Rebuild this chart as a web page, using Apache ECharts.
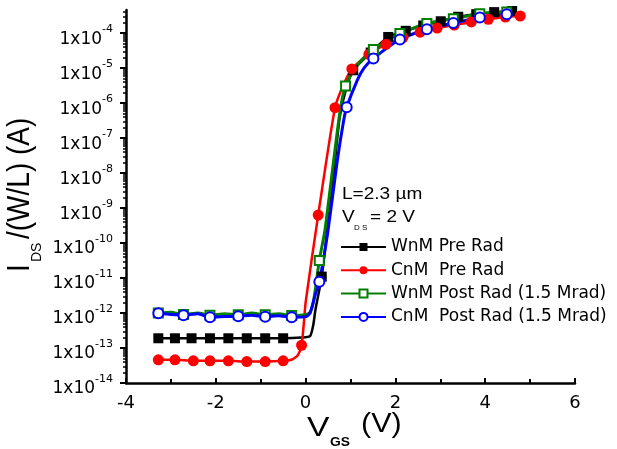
<!DOCTYPE html>
<html><head><meta charset="utf-8">
<script src="https://cdn.jsdelivr.net/npm/echarts@6/dist/echarts.min.js"></script>
<style>html,body{margin:0;padding:0;background:#fff}#c{width:617px;height:449px}</style>
</head><body><div id="c"></div>
<script>
// ---- labels ----
const seriesNames = ['WnM Pre Rad', 'CnM  Pre Rad', 'WnM Post Rad (1.5 Mrad)', 'CnM  Post Rad (1.5 Mrad)'];
const xTickValues = [-4, -2, 0, 2, 4, 6];
const yDecadeExponents = [-14, -13, -12, -11, -10, -9, -8, -7, -6, -5, -4];
const yTopCurrent = 4.6e-4;

// ---- WnM Pre Rad (black squares) ----
const wnmPreV = [-3.28, -2.91, -2.54, -2.13, -1.72, -1.31, -0.90, -0.50, 0.36, 1.06, 1.45, 1.84, 2.23, 2.62, 3.01, 3.40, 3.80, 4.20, 4.60];
const wnmPreI = [1.9e-13, 1.9e-13, 1.9e-13, 1.9e-13, 1.9e-13, 1.9e-13, 1.9e-13, 1.9e-13, 1.1e-11, 8.7e-6, 2.8e-5, 7.8e-5, 1.17e-4, 1.66e-4, 2.19e-4, 2.95e-4, 3.5e-4, 4.0e-4, 4.3e-4];
const wnmPreMidV = [-0.09, 0.10, 0.17, 0.22, 0.50, 0.65, 0.76, 0.90];
const wnmPreMidI = [2.0e-13, 2.2e-13, 4.5e-13, 1.26e-12, 4.0e-10, 2.0e-8, 4.0e-7, 2.5e-6];

// ---- CnM Pre Rad (red circles) ----
const cnmPreV = [-3.28, -2.91, -2.50, -2.13, -1.72, -1.31, -0.90, -0.50, -0.09, 0.28, 0.655, 1.03, 1.41, 1.79, 2.17, 2.55, 2.93, 3.31, 3.69, 4.07, 4.45, 4.78];
const cnmPreI = [4.6e-14, 4.6e-14, 4.3e-14, 4.3e-14, 4.3e-14, 4.1e-14, 4.1e-14, 4.3e-14, 1.2e-13, 6.3e-10, 7.4e-7, 9.5e-6, 2.5e-5, 4.8e-5, 7.6e-5, 1.07e-4, 1.4e-4, 1.7e-4, 2.1e-4, 2.5e-4, 2.9e-4, 3.1e-4];
const cnmPreMidV = [-0.30, -0.17, -0.04, 0.00, 0.85];
const cnmPreMidI = [4.7e-14, 6.3e-14, 5.0e-13, 2.0e-12, 3.5e-6];

// ---- WnM Post Rad (green open squares) ----
const wnmPostV = [-3.28, -2.72, -2.13, -1.50, -0.90, -0.31, 0.305, 0.89, 1.51, 2.10, 2.70, 3.29, 3.88, 4.48];
const wnmPostI = [1.0e-12, 9.1e-13, 8.7e-13, 8.9e-13, 8.9e-13, 8.5e-13, 3.2e-11, 3.1e-6, 3.4e-5, 9.8e-5, 1.9e-4, 2.6e-4, 3.6e-4, 4.0e-4];
const wnmPostMidV = [-3.0, -2.4, -1.8, -1.2, -0.6, 0.0, 0.10, 0.17, 0.23, 0.43, 0.60, 0.77, 1.10, 1.30, 4.70];
const wnmPostMidI = [1.05e-12, 1.0e-12, 9.5e-13, 1.0e-12, 9.5e-13, 8.9e-13, 1.05e-12, 2.0e-12, 6.3e-12, 2.3e-10, 1.26e-8, 6.3e-7, 1.0e-5, 2.0e-5, 4.3e-4];

// ---- CnM Post Rad (blue open circles) ----
const cnmPostV = [-3.28, -2.72, -2.13, -1.50, -0.90, -0.31, 0.306, 0.915, 1.51, 2.10, 2.70, 3.29, 3.88, 4.48];
const cnmPostI = [9.8e-13, 8.7e-13, 7.6e-13, 8.1e-13, 7.8e-13, 7.6e-13, 7.8e-12, 7.6e-7, 1.9e-5, 6.6e-5, 1.3e-4, 1.95e-4, 2.8e-4, 3.5e-4];
const cnmPostMidV = [-3.0, -2.4, -1.8, -1.2, -0.6, 0.02, 0.10, 0.16, 0.22, 0.50, 0.70, 0.84, 1.15, 1.30, 4.70];
const cnmPostMidI = [9.1e-13, 9.5e-13, 7.9e-13, 8.7e-13, 8.3e-13, 7.9e-13, 1.0e-12, 1.8e-12, 3.5e-12, 2.3e-10, 2.0e-8, 2.8e-7, 4.5e-6, 1.0e-5, 3.6e-4];

function buildCurve(mV, mI, kV, kI) {
  const pts = [];
  mV.forEach((v, i) => pts.push({ value: [v, Math.log10(mI[i])] }));
  kV.forEach((v, i) => pts.push({ value: [v, Math.log10(kI[i])], symbol: 'none' }));
  pts.sort((a, b) => a.value[0] - b.value[0]);
  return pts;
}

const yMin = yDecadeExponents[0];
const yMax = Math.log10(yTopCurrent);
const minorLog = [];
yDecadeExponents.forEach(d => {
  for (let k = 2; k <= 9; k++) {
    const v = d + Math.log10(k);
    if (v < yMax) minorLog.push(v);
  }
});

const FONT = 'DejaVu Sans';
const TFONT = 'Liberation Sans';

const chart = echarts.init(document.getElementById('c'), null, { renderer: 'canvas' });
const option = {
  animation: false,
  backgroundColor: '#fff',
  grid: { left: 126, right: 42, top: 10, bottom: 66, containLabel: false },
  xAxis: {
    type: 'value', min: xTickValues[0], max: xTickValues[xTickValues.length - 1], interval: 2,
    splitLine: { show: false },
    axisLine: { show: true, onZero: false, lineStyle: { color: '#000', width: 2.5 } },
    axisTick: { show: true, inside: true, length: 5, lineStyle: { color: '#000', width: 2 } },
    minorTick: { show: true, splitNumber: 2, length: 4, lineStyle: { color: '#000', width: 2 } },
    axisLabel: { color: '#000', fontFamily: FONT, fontSize: 18, margin: 11 }
  },
  yAxis: [{
    type: 'value', min: yMin, max: yMax, interval: 1, position: 'left',
    splitLine: { show: false },
    axisLine: { show: true, onZero: false, lineStyle: { color: '#000', width: 2.5 } },
    axisTick: { show: true, inside: false, length: 6, lineStyle: { color: '#000', width: 2 },
      customValues: yDecadeExponents },
    axisLabel: {
      customValues: yDecadeExponents,
      margin: 13, padding: [5, 0, 0, 0],
      formatter: v => Number.isInteger(v) ? '{b|1x10}{s|' + v + '}' : '',
      rich: {
        b: { fontFamily: FONT, fontSize: 17, color: '#000', lineHeight: 24, verticalAlign: 'bottom' },
        s: { fontFamily: FONT, fontSize: 11, color: '#000', lineHeight: 12, verticalAlign: 'top' }
      }
    }
  }, {
    type: 'value', min: yMin, max: yMax, position: 'left', offset: 0,
    splitLine: { show: false },
    axisLine: { show: false, onZero: false },
    axisLabel: { show: false },
    axisTick: { show: true, inside: false, length: 3, lineStyle: { color: '#000', width: 1.5 },
      customValues: minorLog }
  }],
  legend: {
    orient: 'vertical', left: 340, top: 238, padding: 0,
    itemWidth: 45, itemHeight: 10, itemGap: 5.3,
    selectedMode: false,
    textStyle: { fontFamily: FONT, fontSize: 17, color: '#000', lineHeight: 18 },
    data: seriesNames
  },
  series: [
    {
      type: 'line', name: seriesNames[0], data: buildCurve(wnmPreV, wnmPreI, wnmPreMidV, wnmPreMidI),
      symbol: 'rect', symbolSize: 10, smooth: 0.2,
      itemStyle: { color: '#000000' }, lineStyle: { color: '#000000', width: 2.5 }
    },
    {
      type: 'line', name: seriesNames[1], data: buildCurve(cnmPreV, cnmPreI, cnmPreMidV, cnmPreMidI),
      symbol: 'circle', symbolSize: 11, smooth: 0.2,
      itemStyle: { color: '#ff0000' }, lineStyle: { color: '#ff0000', width: 2.5 }
    },
    {
      type: 'line', name: seriesNames[2], data: buildCurve(wnmPostV, wnmPostI, wnmPostMidV, wnmPostMidI),
      symbol: 'emptyRect', symbolSize: 9, smooth: 0.2,
      itemStyle: { color: '#008000', borderWidth: 1.2 }, lineStyle: { color: '#008000', width: 3 }
    },
    {
      type: 'line', name: seriesNames[3], data: buildCurve(cnmPostV, cnmPostI, cnmPostMidV, cnmPostMidI),
      symbol: 'emptyCircle', symbolSize: 10, smooth: 0.2,
      itemStyle: { color: '#0000ff', borderColor: '#2a2aa0', borderWidth: 1.2 }, lineStyle: { color: '#0000ff', width: 3 }
    }
  ],
  graphic: [
    { type: 'text', x: 342, y: 194, scaleX: 1.12, style: { text: 'L=2.3 µm', fontFamily: TFONT, fontSize: 17, fill: '#000', align: 'left', verticalAlign: 'middle' } },
    { type: 'text', x: 342, y: 217.5, scaleX: 1.12, style: { text: 'V', fontFamily: TFONT, fontSize: 17, fill: '#000', align: 'left', verticalAlign: 'middle' } },
    { type: 'text', x: 354, y: 227.5, style: { text: 'D S', fontFamily: TFONT, fontSize: 8, fill: '#000', align: 'left', verticalAlign: 'middle' } },
    { type: 'text', x: 370, y: 217.5, scaleX: 1.12, style: { text: '= 2 V', fontFamily: TFONT, fontSize: 17, fill: '#000', align: 'left', verticalAlign: 'middle' } },
    { type: 'text', x: 307, y: 428, scaleX: 1.2, style: { text: 'V', fontFamily: TFONT, fontSize: 28, fill: '#000', align: 'left', verticalAlign: 'middle' } },
    { type: 'text', x: 330, y: 443, scaleX: 1.15, style: { text: 'GS', fontFamily: TFONT, fontSize: 12, fontWeight: 'bold', fill: '#000', align: 'left', verticalAlign: 'middle' } },
    { type: 'text', x: 361, y: 425, scaleX: 1.13, style: { text: '(V)', fontFamily: TFONT, fontSize: 27, fill: '#000', align: 'left', verticalAlign: 'middle' } },
    {
      type: 'group', x: 21, y: 272, rotation: Math.PI / 2, scaleY: 1.1,
      children: [
        { type: 'text', x: 0, y: 0, style: { text: 'I', fontFamily: TFONT, fontSize: 28, fill: '#000', align: 'left', verticalAlign: 'middle' } },
        { type: 'text', x: 10, y: 14.5, style: { text: 'DS', fontFamily: TFONT, fontSize: 14, fill: '#000', align: 'left', verticalAlign: 'middle' } },
        { type: 'text', x: 33, y: 0, style: { text: '/(W/L) (A)', fontFamily: TFONT, fontSize: 28, fill: '#000', align: 'left', verticalAlign: 'middle' } }
      ]
    }
  ]
};
chart.setOption(option);
</script>
</body></html>
